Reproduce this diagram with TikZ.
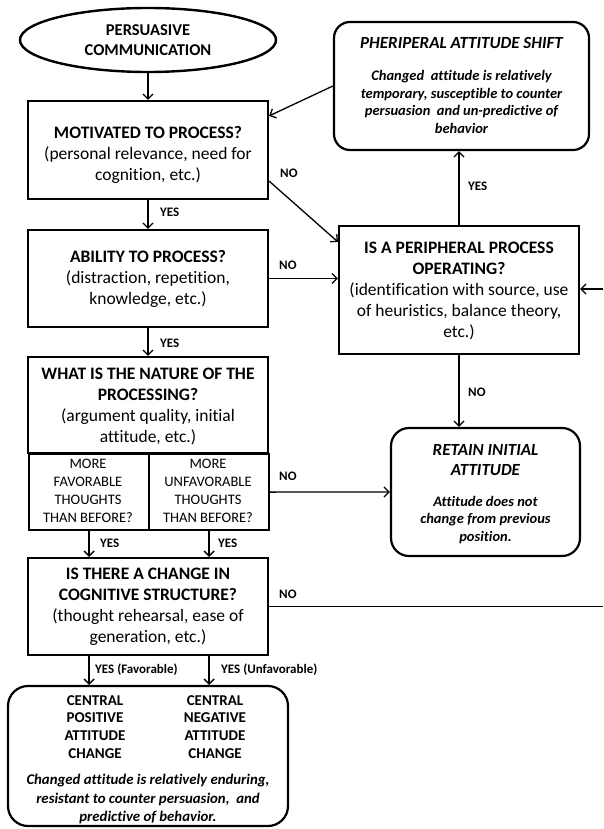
\documentclass[tikz,border=0pt]{standalone}
\usepackage{fontspec}
\setmainfont{Carlito}[Ligatures=NoCommon]
\usetikzlibrary{shapes.geometric,arrows.meta}
\begin{document}
\begin{tikzpicture}[x=1pt,y=-1pt,
  box/.style={draw,line width=2.2pt,rectangle,inner sep=0pt},
  rbox/.style={draw,line width=2.2pt,rectangle,rounded corners=16pt,inner sep=0pt},
  txt/.style={align=center,inner sep=0pt,font=\fontsize{17.5}{21}\selectfont},
  lbl/.style={inner sep=0pt,font=\fontsize{13}{14}\selectfont\bfseries},
  arr/.style={line width=1.3pt,-{Straight Barb[length=5pt,width=10pt,line width=1.3pt]}},
  ln/.style={line width=1.3pt}]
\useasboundingbox (0,0) rectangle (603,829);
% start ellipse
\node[ellipse,draw,line width=2.4pt,minimum width=256pt,minimum height=64pt,inner sep=0pt,
  align=center,font=\fontsize{16.5}{20}\selectfont\bfseries] (pc) at (148,40) {PERSUASIVE\\COMMUNICATION};
% left column boxes
\node[box,minimum width=240pt,minimum height=98pt] (mot) at (148,150) {};
\node[txt] (mott) at (148,155) {{\bfseries MOTIVATED TO PROCESS?}\\(personal relevance, need for\\cognition, etc.)};
\node[box,minimum width=240pt,minimum height=97pt] (abil) at (148,278.5) {};
\node[txt] (abilt) at (148,279) {{\bfseries ABILITY TO PROCESS?}\\(distraction, repetition,\\knowledge, etc.)};
\node[box,minimum width=240pt,minimum height=96pt] (nat) at (148,405) {};
\node[txt] (natt) at (148,406) {{\bfseries WHAT IS THE NATURE OF THE}\\{\bfseries PROCESSING?}\\(argument quality, initial\\attitude, etc.)};
\node[box,minimum width=120pt,minimum height=76pt,anchor=north west] (fav) at (28,453) {};
\node[txt,font=\fontsize{14.5}{18}\selectfont] (favt) at (88,491) {MORE\\FAVORABLE\\THOUGHTS\\THAN BEFORE?};
\node[box,minimum width=120pt,minimum height=76pt,anchor=north west] (unf) at (148,453) {};
\node[txt,font=\fontsize{14.5}{18}\selectfont] (unft) at (208,491) {MORE\\UNFAVORABLE\\THOUGHTS\\THAN BEFORE?};
\node[box,minimum width=240pt,minimum height=97pt] (cog) at (148,606.5) {};
\node[txt] (cogt) at (148,607) {{\bfseries IS THERE A CHANGE IN}\\{\bfseries COGNITIVE STRUCTURE?}\\(thought rehearsal, ease of\\generation, etc.)};
% final box
\node[rbox,rounded corners=20pt,minimum width=280pt,minimum height=140pt] (fin) at (148,756) {};
\node[txt,font=\fontsize{15}{17.8}\selectfont\bfseries] (cpos) at (95,727) {CENTRAL\\POSITIVE\\ATTITUDE\\CHANGE};
\node[txt,font=\fontsize{15}{17.8}\selectfont\bfseries] (cneg) at (215,727) {CENTRAL\\NEGATIVE\\ATTITUDE\\CHANGE};
\node[txt,font=\fontsize{14.8}{18.3}\selectfont\bfseries\itshape] (fint) at (148,799) {Changed attitude is relatively enduring,\\resistant to counter persuasion, \ and\\predictive of behavior.};
% right column
\node[rbox,minimum width=255pt,minimum height=128pt] (shift) at (461.5,86) {};
\node[txt,font=\fontsize{17}{20}\selectfont\bfseries\itshape] (shiftt) at (461.5,43) {PHERIPERAL ATTITUDE SHIFT};
\node[txt,font=\fontsize{14.5}{17.5}\selectfont\bfseries\itshape] (shiftb) at (461.5,102) {Changed \ attitude is relatively\\temporary, susceptible to counter\\persuasion \ and un-predictive of\\behavior};
\node[box,minimum width=240pt,minimum height=128pt] (proc) at (459,290) {};
\node[txt] (proct) at (459,291) {{\bfseries IS A PERIPHERAL PROCESS}\\{\bfseries OPERATING?}\\(identification with source, use\\of heuristics, balance theory,\\etc.)};
\node[rbox,rounded corners=18pt,minimum width=189pt,minimum height=128pt] (ret) at (485.5,492) {};
\node[txt,font=\fontsize{17}{20}\selectfont\bfseries\itshape] (rett) at (485.5,460) {RETAIN INITIAL\\ATTITUDE};
\node[txt,font=\fontsize{14.5}{17.5}\selectfont\bfseries\itshape] (retb) at (485.5,520) {Attitude does not\\change from previous\\position.};
% edge coordinates (picture border)
\coordinate (edgeA) at (603,289);
\coordinate (edgeB) at (603,606.5);
% connectors
\draw[arr] (pc) -- (mot);
\draw[arr] (mot) -- (abil);
\draw[arr] (abil) -- (nat);
\draw[arr] (fav) -- (fav |- cog.north);
\draw[arr] (unf) -- (unf |- cog.north);
\draw[arr] (cog.south -| fav) -- (fav |- fin.north);
\draw[arr] (cog.south -| unf) -- (unf |- fin.north);
\draw[arr] ([yshift=19pt]mot.south east) -- ([yshift=-17pt]proc.north west);
\draw[arr] (shift.west) -- ([yshift=-16pt]mot.north east);
\draw[arr] (abil.east) -- (proc.west |- abil.east);
\draw[arr] (proc.north) -- (proc.north |- shift.south);
\draw[arr] (proc.south) -- (proc.south |- ret.north);
\draw[arr] (unf.east) -- (ret.west);
\draw[ln] (cog.east) -- (edgeB);
\draw[arr] (edgeA) -- (proc.east |- edgeA);
% labels
\node[lbl,anchor=west] (y1) at (160,212) {YES};
\node[lbl,anchor=west] (y2) at (160,343) {YES};
\node[lbl,anchor=west] (y3) at (100,543) {YES};
\node[lbl,anchor=west] (y4) at (218,543) {YES};
\node[lbl,anchor=west] (y5) at (95,670) {YES (Favorable)};
\node[lbl,anchor=west] (y6) at (221,670) {YES (Unfavorable)};
\node[lbl,anchor=west] (n1) at (280,173) {NO};
\node[lbl,anchor=west] (n2) at (279,265) {NO};
\node[lbl,anchor=west] (n3) at (279,476) {NO};
\node[lbl,anchor=west] (n4) at (279,594) {NO};
\node[lbl,anchor=west] (y7) at (468,186) {YES};
\node[lbl,anchor=west] (n5) at (468,392) {NO};
\end{tikzpicture}
\end{document}
